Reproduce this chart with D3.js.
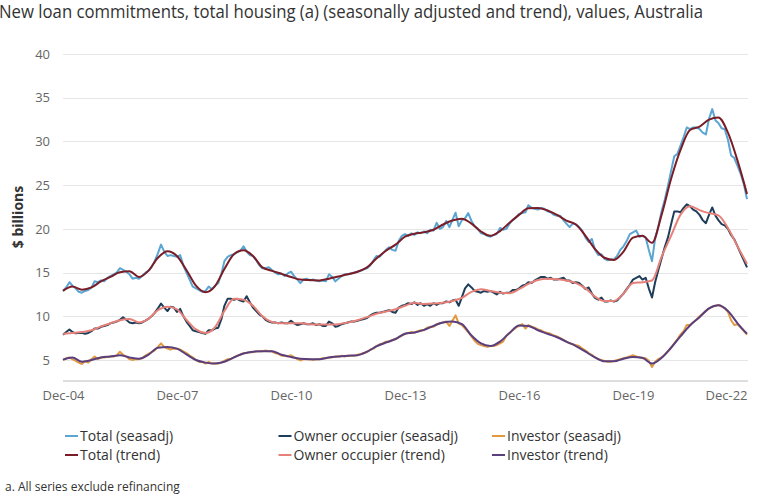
<!DOCTYPE html>
<html>
<head>
<meta charset="utf-8">
<script src="https://cdn.jsdelivr.net/npm/d3@7"></script>
<style>
    body { margin: 0; background: #fff; }
    svg { display: block; font-family: "Open Sans", sans-serif; }
    .grid line { stroke: #e6e6e6; stroke-width: 1px; }
    .axis text { fill: #666; font-size: 13px; }
    .legend text { fill: #333; font-size: 14px; }
    .sa, .trend { fill: none; stroke-width: 2px; stroke-linejoin: round; }
</style>
</head>
<body>
<svg id="chart" width="762" height="495"></svg>
<script>
// monthly series, Dec-04 .. Dec-22
var totalSA = [
    12.9, 13.3, 13.9, 13.5, 13.2, 12.8, 12.7, 12.9, 13.0, 13.3, 14.0, 13.9,
    14.1, 14.0, 14.4, 14.6, 14.8, 15.0, 15.5, 15.3, 15.1, 14.8, 14.3, 14.4,
    14.3, 14.6, 15.0, 15.2, 15.6, 16.3, 17.2, 18.2, 17.4, 16.9, 17.0, 16.9,
    16.8, 17.0, 15.8, 15.0, 14.2, 13.4, 13.2, 13.0, 12.8, 12.9, 13.4, 13.1,
    13.5, 13.8, 14.9, 16.3, 16.8, 17.0, 17.1, 17.3, 17.5, 18.0, 17.4, 17.0,
    16.9, 16.4, 15.8, 15.5, 15.5, 15.6, 15.3, 15.0, 14.8, 14.9, 14.6, 14.9,
    15.1, 14.6, 14.2, 13.8, 14.2, 14.3, 14.1, 14.2, 14.1, 14.0, 14.1, 14.0,
    14.8, 14.5, 14.0, 14.3, 14.6, 14.8, 14.8, 14.9, 15.0, 15.1, 15.2, 15.4,
    15.5, 15.8, 16.4, 16.9, 16.8, 17.2, 17.6, 17.9, 17.6, 17.5, 18.6, 19.2,
    19.4, 19.2, 19.5, 19.3, 19.6, 19.5, 19.7, 19.5, 19.9, 19.8, 20.7, 20.0,
    20.2, 20.9, 20.2, 21.0, 21.85, 20.3, 21.0, 21.2, 21.8, 20.9, 20.3, 20.0,
    19.5, 19.4, 19.2, 19.1, 19.3, 19.4, 20.1, 19.9, 20.0, 20.6, 21.0, 21.3,
    21.7, 21.8, 21.9, 22.7, 22.4, 22.3, 22.2, 22.4, 22.3, 22.0, 21.9, 21.6,
    21.5, 21.5, 21.0, 20.6, 20.2, 20.6, 20.5, 20.2, 19.8, 19.0, 18.5, 18.85,
    17.6, 17.0, 17.1, 16.6, 16.4, 16.5, 16.5, 16.9, 17.6, 18.0, 18.6, 19.4,
    19.6, 19.8, 19.1, 19.2, 19.0, 17.6, 16.3, 18.9, 20.3, 22.0, 23.3, 24.9,
    26.6, 28.3, 28.6, 29.5, 30.5, 31.6, 31.4, 31.6, 31.6, 31.4, 31.0, 30.8,
    32.6, 33.7, 32.4, 32.1, 31.5, 31.4, 30.2, 28.4, 28.1, 27.2, 26.3, 25.1,
    23.4
];
var ownerSA = [
    7.9, 8.2, 8.5, 8.2, 8.05, 8.1, 8.1, 8.0, 8.1, 8.3, 8.6, 8.6,
    8.8, 8.9, 9.0, 9.2, 9.3, 9.4, 9.6, 9.9, 9.6, 9.3, 9.2, 9.3,
    9.2, 9.3, 9.5, 9.7, 10.0, 10.4, 10.9, 11.45, 11.0, 10.6, 11.1, 11.0,
    10.5, 10.85, 10.0, 9.4, 8.9, 8.4, 8.3, 8.2, 8.1, 8.0, 8.4, 8.4,
    8.6, 8.7, 9.7, 11.2, 12.0, 12.0, 11.9, 12.0, 11.8, 11.7, 12.3, 11.6,
    11.0, 10.6, 10.2, 10.0, 9.6, 9.4, 9.3, 9.3, 9.2, 9.3, 9.2, 9.2,
    9.5, 9.2, 9.0, 9.1, 9.2, 9.1, 9.1, 9.2, 9.0, 9.1, 8.9, 8.9,
    9.4, 9.2, 8.8, 8.9, 9.1, 9.2, 9.3, 9.4, 9.4, 9.5, 9.6, 9.7,
    9.8, 10.1, 10.3, 10.4, 10.4, 10.5, 10.6, 10.7, 10.5, 10.4, 11.0, 11.2,
    11.3, 11.5, 11.4, 11.6, 11.3, 11.5, 11.2, 11.4, 11.2, 11.5, 11.3, 11.5,
    11.5, 11.7, 11.6, 11.8, 11.9, 11.2, 12.2, 13.2, 13.65, 13.3, 12.9, 12.8,
    12.7, 12.9, 12.8, 12.9, 12.7, 12.5, 12.8, 12.6, 12.7, 12.7, 13.0, 13.0,
    13.2, 13.5, 13.6, 13.9, 13.8, 14.1, 14.3, 14.5, 14.5, 14.3, 14.4, 14.2,
    14.2, 14.3, 14.4, 14.1, 14.1, 13.8, 13.9, 13.8, 13.5, 13.1, 13.3, 12.6,
    12.1, 11.9, 12.15, 11.7, 11.7, 11.8, 11.7, 11.8, 12.2, 12.6, 13.1, 13.6,
    14.2, 14.4, 14.6, 14.2, 14.4, 13.2, 12.15, 13.9, 15.3, 16.6, 17.9, 19.0,
    20.5, 22.0, 22.0, 21.9, 22.4, 22.8, 22.6, 22.2, 22.0, 21.6, 21.0, 20.65,
    21.6, 22.45, 21.5, 21.0, 20.55, 20.4, 20.0, 19.3, 18.8, 18.0, 17.2, 16.4,
    15.6
];
var investorSA = [
    5.0, 5.2, 5.3, 5.1, 4.9, 4.7, 4.55, 4.9, 4.7, 5.1, 5.4, 5.1,
    5.3, 5.3, 5.35, 5.4, 5.4, 5.5, 5.95, 5.6, 5.4, 5.1, 5.0, 5.1,
    5.1, 5.2, 5.5, 5.7, 5.9, 6.1, 6.5, 6.9, 6.5, 6.3, 6.2, 6.3,
    6.3, 6.2, 6.0, 5.8, 5.5, 5.3, 5.0, 4.8, 4.8, 4.6, 4.8, 4.6,
    4.6, 4.6, 4.7, 4.9, 5.1, 5.1, 5.3, 5.5, 5.6, 5.8, 5.8, 5.9,
    5.9, 6.0, 6.0, 6.0, 6.1, 6.0, 6.0, 5.8, 5.7, 5.5, 5.5, 5.4,
    5.55, 5.3, 5.1, 4.95, 5.1, 5.1, 5.1, 5.0, 5.1, 5.1, 5.2, 5.2,
    5.3, 5.3, 5.4, 5.4, 5.5, 5.4, 5.5, 5.5, 5.5, 5.6, 5.7, 5.8,
    5.9, 6.2, 6.3, 6.6, 6.8, 6.9, 7.1, 7.1, 7.3, 7.4, 7.6, 7.8,
    8.0, 8.1, 8.2, 8.1, 8.3, 8.4, 8.4, 8.7, 8.8, 8.8, 9.1, 9.2,
    9.3, 9.4, 8.9, 9.5, 10.1, 9.2, 9.0, 8.6, 8.2, 7.7, 7.2, 6.85,
    6.7, 6.6, 6.5, 6.6, 6.6, 6.7, 6.9, 7.1, 7.8, 8.1, 8.4, 8.7,
    8.9, 9.1, 8.6, 9.0, 8.8, 8.7, 8.5, 8.4, 8.2, 8.1, 8.0, 7.8,
    7.7, 7.5, 7.3, 7.1, 6.9, 6.8, 6.7, 6.6, 6.3, 6.1, 5.8, 5.6,
    5.3, 5.1, 5.0, 4.9, 4.8, 4.8, 4.9, 5.0, 5.1, 5.2, 5.3, 5.4,
    5.55, 5.4, 5.3, 5.2, 5.2, 4.9, 4.2, 4.8, 5.1, 5.3, 5.6, 6.0,
    6.4, 6.9, 7.4, 7.9, 8.3, 9.0, 9.0, 9.3, 9.6, 10.0, 10.3, 10.6,
    10.9, 11.1, 11.2, 11.3, 11.1, 10.9, 10.5, 9.55, 9.0, 9.1, 8.7, 8.3,
    7.9
];
// trend series, read every third month (Dec, Mar, Jun, Sep)
var totalTrend = [
    12.9, 13.4, 13.05, 13.3, 14.0, 14.5, 15.05, 15.15, 14.5, 15.2, 16.7, 17.45,
    16.9, 15.3, 13.5, 12.75, 13.45, 15.4, 17.1, 17.55, 16.9, 15.6, 15.2, 14.85,
    14.5, 14.2, 14.15, 14.1, 14.3, 14.55, 14.8, 15.1, 15.6, 16.6, 17.5, 18.2,
    19.1, 19.45, 19.6, 19.9, 20.5, 20.95, 21.15, 20.6, 19.7, 19.2, 19.75, 20.7,
    21.6, 22.35, 22.4, 22.1, 21.6, 20.95, 20.5, 19.2, 17.7, 16.7, 16.45, 17.4,
    19.0, 19.2, 18.4, 21.6, 25.7, 29.0, 31.3, 31.7, 32.5, 32.75, 31.0, 27.8,
    24.0
];
var ownerTrend = [
    8.0, 8.1, 8.2, 8.4, 8.85, 9.2, 9.55, 9.7, 9.3, 9.7, 10.7, 11.1,
    10.8, 9.6, 8.5, 8.1, 8.75, 10.6, 12.0, 11.9, 11.2, 10.0, 9.35, 9.2,
    9.2, 9.2, 9.1, 9.05, 9.05, 9.1, 9.3, 9.55, 9.9, 10.3, 10.55, 10.8,
    11.2, 11.55, 11.4, 11.45, 11.55, 11.75, 12.1, 12.8, 13.1, 12.9, 12.7, 12.65,
    13.1, 13.7, 14.15, 14.3, 14.25, 14.1, 13.8, 13.2, 12.25, 11.75, 11.75, 12.6,
    13.8, 13.9, 14.1, 16.8, 19.2, 21.6, 22.6, 22.15, 21.8, 21.55, 20.1, 18.0,
    16.0
];
var investorTrend = [
    5.05, 5.3, 4.8, 5.0, 5.3, 5.4, 5.55, 5.3, 5.15, 5.6, 6.4, 6.5,
    6.3, 5.65, 5.0, 4.7, 4.6, 4.8, 5.3, 5.75, 5.95, 6.0, 6.0, 5.6,
    5.35, 5.15, 5.1, 5.1, 5.3, 5.4, 5.5, 5.55, 5.95, 6.55, 7.0, 7.4,
    8.0, 8.15, 8.45, 8.9, 9.3, 9.4, 9.1, 7.8, 6.9, 6.6, 7.1, 8.1,
    8.95, 8.9, 8.4, 8.0, 7.6, 7.1, 6.6, 5.95, 5.3, 4.85, 4.85, 5.15,
    5.35, 5.25, 4.6, 5.25, 6.4, 7.7, 8.95, 9.9, 10.9, 11.25, 10.6, 9.2,
    8.0
];
var seriesNames = ["Total (seasadj)", "Owner occupier (seasadj)", "Investor (seasadj)",
                   "Total (trend)", "Owner occupier (trend)", "Investor (trend)"];
var seriesColors = ["#5aa5d2", "#1e3d58", "#e39a3f", "#7a1d27", "#e6817a", "#5a3f7e"];
var xTickLabels = ["Dec-04", "Dec-07", "Dec-10", "Dec-13", "Dec-16", "Dec-19", "Dec-22"];
var yTicks = [5, 10, 15, 20, 25, 30, 35, 40];

var startMonth = new Date(2004, 11, 1);
function monthDate(i) { return d3.timeMonth.offset(startMonth, i); }

var plotLeft = 63, plotRight = 747, plotTop = 54, plotBottom = 381;
var svg = d3.select("#chart");

var x = d3.scaleTime().domain([monthDate(0), monthDate(216)]).range([plotLeft, plotRight]);
var y = d3.scaleLinear().domain([2.6, 40]).range([plotBottom, plotTop]);

// title
svg.append("text")
    .attr("x", -1).attr("y", 18)
    .attr("font-size", "18px").attr("fill", "#333")
    .attr("textLength", 704).attr("lengthAdjust", "spacingAndGlyphs")
    .text("New loan commitments, total housing (a) (seasonally adjusted and trend), values, Australia");

// grid
svg.append("g").attr("class", "grid")
    .selectAll("line").data(yTicks).enter().append("line")
    .attr("x1", plotLeft).attr("x2", plotRight + 1)
    .attr("y1", function (d) { return Math.round(y(d)) + 0.5; })
    .attr("y2", function (d) { return Math.round(y(d)) + 0.5; });

svg.append("line")
    .attr("x1", plotLeft).attr("x2", plotRight + 1)
    .attr("y1", plotBottom).attr("y2", plotBottom)
    .attr("stroke", "#dedede").attr("stroke-width", 2);

// y axis
var yAxis = svg.append("g").attr("class", "axis")
    .attr("transform", "translate(" + plotLeft + ",0)")
    .call(d3.axisLeft(y).tickValues(yTicks).tickSize(0).tickPadding(13));
yAxis.select(".domain").remove();
yAxis.selectAll("text").attr("font-family", "Open Sans, sans-serif");

svg.append("text")
    .attr("transform", "translate(23,217) rotate(-90)")
    .attr("text-anchor", "middle")
    .attr("font-size", "14px").attr("font-weight", "bold").attr("fill", "#333")
    .text("$ billions");

// x axis
var xAxis = svg.append("g").attr("class", "axis")
    .attr("transform", "translate(0," + plotBottom + ")")
    .call(d3.axisBottom(x)
        .tickValues(xTickLabels.map(function (d, i) { return monthDate(i * 36); }))
        .tickFormat(function (d, i) { return xTickLabels[i]; })
        .tickSize(0).tickPadding(10));
xAxis.select(".domain").remove();
xAxis.selectAll("text").attr("font-family", "Open Sans, sans-serif");
xAxis.selectAll(".tick").filter(function (d, i) { return i === xTickLabels.length - 1; })
    .select("text").attr("text-anchor", "end");

// lines
var saLine = d3.line()
    .x(function (d, i) { return x(monthDate(i)); })
    .y(function (d) { return y(d); });
var trendLine = d3.line()
    .curve(d3.curveMonotoneX)
    .x(function (d, i) { return x(monthDate(i * 3)); })
    .y(function (d) { return y(d); });

var saData = [totalSA, ownerSA, investorSA];
var trendData = [totalTrend, ownerTrend, investorTrend];

svg.append("g").selectAll("path").data(saData).enter().append("path")
    .attr("class", "sa")
    .attr("stroke", function (d, i) { return seriesColors[i]; })
    .attr("d", saLine);
svg.append("g").selectAll("path").data(trendData).enter().append("path")
    .attr("class", "trend")
    .attr("stroke", function (d, i) { return seriesColors[i + 3]; })
    .attr("d", trendLine);

// legend
var legend = svg.append("g").attr("class", "legend")
    .selectAll("g").data(seriesNames).enter().append("g")
    .attr("transform", function (d, i) {
        return "translate(" + (65 + (i % 3) * 213.5) + "," + (441 + Math.floor(i / 3) * 19) + ")";
    });
legend.append("line")
    .attr("x1", 0).attr("x2", 13).attr("y1", -5).attr("y2", -5)
    .attr("stroke-width", 2)
    .attr("stroke", function (d, i) { return seriesColors[i]; });
legend.append("text")
    .attr("x", 15).attr("y", 0)
    .text(function (d) { return d; });

// footnote
svg.append("text")
    .attr("x", 5).attr("y", 491)
    .attr("font-size", "12px").attr("fill", "#333")
    .text("a. All series exclude refinancing");
</script>
</body>
</html>
